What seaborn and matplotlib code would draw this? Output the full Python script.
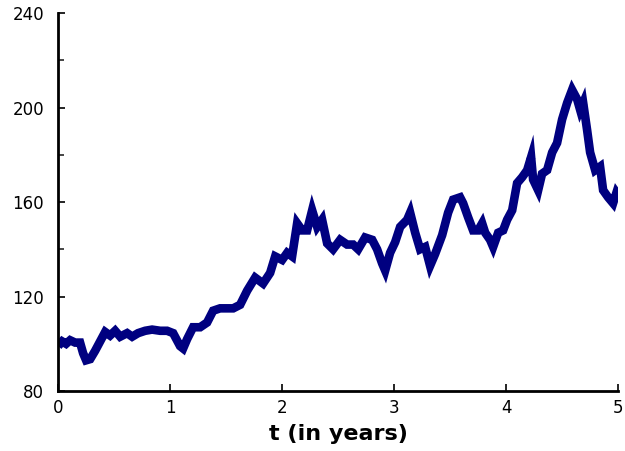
import matplotlib
matplotlib.use("Agg")
import matplotlib.pyplot as plt
import seaborn as sns
import pandas as pd
from matplotlib.ticker import MultipleLocator

t_years = [0.000, 0.036, 0.071, 0.107, 0.152, 0.196, 0.223, 0.250, 0.286, 0.330,
           0.375, 0.420, 0.464, 0.509, 0.554, 0.616, 0.661, 0.714, 0.777, 0.839,
           0.911, 0.973, 1.027, 1.089, 1.116, 1.152, 1.205, 1.268, 1.330, 1.384,
           1.446, 1.509, 1.563, 1.625, 1.688, 1.759, 1.830, 1.893, 1.938, 2.000,
           2.045, 2.089, 2.134, 2.179, 2.223, 2.268, 2.313, 2.357, 2.402, 2.455,
           2.518, 2.580, 2.634, 2.679, 2.741, 2.804, 2.848, 2.893, 2.920, 2.964,
           3.009, 3.054, 3.116, 3.143, 3.188, 3.232, 3.277, 3.321, 3.366, 3.429,
           3.482, 3.527, 3.589, 3.616, 3.661, 3.705, 3.750, 3.786, 3.813, 3.857,
           3.884, 3.929, 3.973, 4.009, 4.054, 4.098, 4.143, 4.188, 4.223, 4.241,
           4.286, 4.321, 4.366, 4.411, 4.455, 4.500, 4.545, 4.589, 4.634, 4.661,
           4.688, 4.723, 4.750, 4.795, 4.839, 4.866, 4.911, 4.955, 4.985, 5.000]

price = [99, 101, 100, 101.5, 100.5, 100.5, 96, 93, 93.5, 97,
         101, 105, 103.5, 105.5, 103, 104.5, 103, 104.5, 105.5, 106,
         105.5, 105.5, 104.5, 99, 98, 102, 107, 107, 109, 114,
         115, 115, 115, 116.5, 122.5, 128, 125.5, 130, 137, 135.5,
         138.5, 137, 151, 148, 148, 156.5, 149.5, 152.5, 142.5, 140,
         144, 142, 142, 140, 145, 144, 140, 134, 131, 138.5,
         143, 149.5, 152.5, 155.5, 147, 140, 141, 133, 138, 146,
         155.5, 161, 162, 159.5, 153.5, 148, 148, 151, 147, 144,
         141, 147, 148, 152.5, 156.5, 168, 170.5, 173.5, 179, 169.5,
         165, 172, 173.5, 181, 185, 195, 202, 207.5, 203.5, 199,
         202, 190.5, 181, 173.5, 175, 165, 162, 159.5, 164, 163]

x_ticks = [0, 1, 2, 3, 4, 5]
y_ticks = [80, 120, 160, 200, 240]
x_label = "t (in years)"

sns.set_style("ticks")
plt.rcParams["font.family"] = ["DejaVu Sans"]

df = pd.DataFrame({"t": t_years, "S": price})

fig = plt.figure(figsize=(6.25, 4.51), dpi=100)
ax = fig.add_axes([0.093, 0.133, 0.896, 0.838])
sns.lineplot(data=df, x="t", y="S", ax=ax, color="#000080", linewidth=6.2,
             solid_joinstyle="miter", solid_capstyle="butt", estimator=None)

ax.set_xlim(0, 5)
ax.set_ylim(80, 240)
ax.set_xticks(x_ticks)
ax.set_yticks(y_ticks)
ax.set_xticklabels([str(v) for v in x_ticks])
ax.set_yticklabels([str(v) for v in y_ticks])
ax.yaxis.set_minor_locator(MultipleLocator(20))
ax.tick_params(axis="both", which="major", direction="in", length=5, width=1.2,
               labelsize=12, colors="black")
ax.tick_params(axis="y", which="minor", direction="in", length=4, width=1.2)
ax.tick_params(axis="y", pad=10)
ax.tick_params(axis="x", pad=6)
ax.set_xlabel(x_label, fontsize=16, fontweight="bold", labelpad=5, color="black")
ax.set_ylabel("")
sns.despine(ax=ax)
for side in ["left", "bottom"]:
    ax.spines[side].set_linewidth(2)
    ax.spines[side].set_color("black")

fig.savefig("out.png", dpi=100)
